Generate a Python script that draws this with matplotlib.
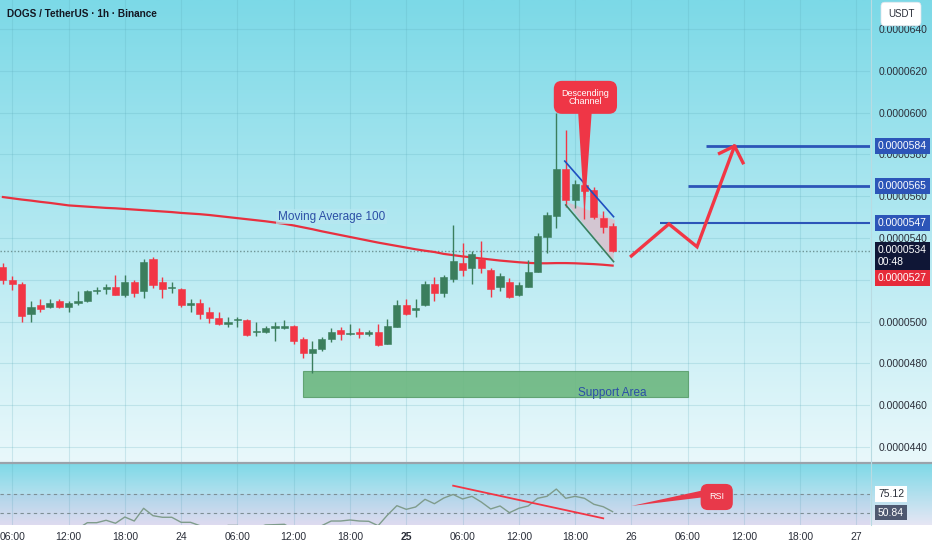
import numpy as np
import matplotlib
matplotlib.use("Agg")
import matplotlib.pyplot as plt
from matplotlib.patches import Polygon, Rectangle
import matplotlib.transforms as mtransforms

plt.rcParams['font.family'] = ['Liberation Sans', 'DejaVu Sans']

# ---------------- data (prices in units of 1e-7 USDT) ----------------
UNIT = 1e-7
hours = list(range(-1, 65))   # hours after 06:00 on day 23
opens = [526.0, 519.9, 517.9, 503.6, 507.9, 506.8, 510.0, 506.8, 508.8, 509.7,
         514.5, 515.6, 516.7, 512.7, 518.9, 514.8, 529.8, 518.9, 516.0, 515.8,
         507.9, 509.0, 504.7, 501.9, 498.9, 500.6, 500.8, 495.0, 494.9, 497.1,
         496.8, 498.0, 491.8, 484.8, 486.7, 491.7, 496.1, 493.9, 495.0, 493.9,
         495.0, 489.4, 497.6, 507.9, 505.5, 507.8, 517.8, 513.5, 520.5, 527.9,
         525.5, 529.8, 524.7, 516.7, 518.9, 512.7, 516.7, 523.9, 540.5, 550.5,
         572.9, 558.2, 565.5, 563.0, 549.6, 545.9]
highs = [527.9, 522.0, 519.0, 509.9, 510.9, 510.9, 510.9, 510.0, 514.8, 515.0,
         516.7, 518.0, 522.1, 522.1, 519.8, 529.8, 531.1, 521.2, 518.9, 516.0,
         510.9, 510.9, 507.1, 504.7, 502.1, 502.1, 501.1, 500.0, 497.9, 500.0,
         500.8, 498.4, 492.8, 490.9, 492.8, 496.8, 497.3, 498.9, 496.9, 496.0,
         498.9, 501.1, 510.5, 510.9, 510.8, 519.3, 521.2, 522.3, 546.2, 537.7,
         533.9, 538.7, 525.5, 523.1, 520.7, 518.9, 529.5, 542.3, 552.6, 599.7,
         591.7, 567.8, 566.5, 564.4, 553.1, 547.0]
lows = [518.0, 515.1, 500.0, 500.0, 504.7, 506.4, 506.4, 504.7, 507.9, 509.5,
        513.2, 513.2, 512.7, 511.9, 511.9, 511.1, 516.0, 511.1, 513.8, 507.2,
        504.7, 501.1, 499.2, 498.4, 497.3, 497.3, 493.1, 493.1, 494.4, 490.9,
        496.3, 489.1, 482.4, 475.2, 486.0, 490.1, 491.2, 493.6, 492.0, 492.9,
        488.3, 489.1, 497.3, 503.2, 502.1, 507.5, 510.0, 511.9, 519.1, 521.8,
        517.8, 523.1, 511.9, 514.8, 511.4, 512.2, 516.4, 523.6, 532.7, 544.6,
        555.0, 554.2, 549.0, 549.1, 542.2, 533.5]
closes = [519.9, 517.9, 502.7, 507.1, 505.9, 509.0, 506.8, 509.0, 510.0, 514.8,
          514.9, 516.7, 512.7, 518.9, 513.8, 528.7, 517.7, 515.6, 516.2, 507.8,
          509.0, 503.6, 501.9, 498.9, 500.0, 500.9, 493.7, 495.3, 497.0, 497.4,
          498.0, 490.9, 484.8, 486.9, 491.8, 495.2, 493.9, 494.7, 493.9, 495.0,
          488.7, 497.9, 508.1, 503.5, 506.6, 517.8, 513.5, 521.2, 528.9, 524.7,
          532.2, 525.5, 515.7, 521.8, 511.9, 517.5, 523.9, 540.9, 550.9, 572.9,
          558.2, 565.8, 562.5, 550.0, 545.3, 534.0]
ma100 = [559.6, 559.0, 558.4, 557.9, 557.3, 556.8, 556.2, 555.6, 555.3, 555.0,
         554.7, 554.4, 554.2, 553.9, 553.6, 553.3, 553.0, 552.7, 552.4, 552.0,
         551.7, 551.4, 551.0, 550.5, 550.0, 549.5, 549.0, 548.5, 548.0, 547.4,
         546.8, 546.0, 545.1, 544.2, 543.2, 542.3, 541.4, 540.5, 539.6, 538.7,
         537.8, 537.0, 536.2, 535.4, 534.6, 533.9, 533.3, 532.4, 531.8, 531.2,
         530.7, 530.2, 529.7, 529.2, 528.8, 528.4, 528.1, 527.9, 527.9, 528.0,
         528.0, 527.9, 527.7, 527.5, 527.2, 526.8]
rsi = [34.0, 32.0, 24.0, 29.0, 28.0, 31.0, 29.0, 31.0, 33.0, 39.3,
       39.3, 41.9, 38.7, 45.4, 41.1, 54.7, 46.8, 45.1, 45.1, 39.7,
       39.7, 36.1, 34.5, 32.0, 36.4, 36.4, 30.5, 33.5, 36.9, 37.2,
       37.6, 32.0, 27.5, 30.5, 36.2, 41.1, 41.1, 42.2, 41.1, 40.8,
       36.1, 47.5, 57.5, 53.6, 56.1, 64.3, 59.6, 65.7, 69.5, 64.7,
       67.5, 61.4, 54.0, 57.2, 50.0, 54.7, 57.2, 65.4, 67.5, 75.3,
       65.4, 67.5, 65.4, 59.0, 56.4, 51.1]

tick_hours = [0, 6, 12, 18, 24, 30, 36, 42, 48, 54, 60, 66, 72, 78, 84, 90]
tick_labels = ["06:00", "12:00", "18:00", "24", "06:00", "12:00", "18:00", "25",
               "06:00", "12:00", "18:00", "26", "06:00", "12:00", "18:00", "27"]
price_ticks = [440, 460, 480, 500, 520, 540, 560, 580, 600, 620, 640]
hidden_price_labels = [520]   # fully covered by the scale boxes in the original

level_prices = [584, 565, 547]
level_start = [74, 72, 69]
proj_hours = [66, 70, 73, 77]
proj_prices = [531.4, 546.7, 535.8, 584.0]
support_hours = [31, 72]
support_prices = [463.9, 476.4]
chan_upper_h = [58.9, 64.1]
chan_upper_p = [576.8, 550.2]
chan_lower_h = [59.0, 64.1]
chan_lower_p = [555.8, 528.7]
rsi_trend_h = [47.0, 63.0]
rsi_trend_v = [78.9, 44.0]
current_price = 534.0
ma_last = 526.8

# ---------------- colours ----------------
GREEN = "#3b7e5d"
RED = "#f23645"
BLUE = "#2c55b8"
TXT = "#2a2e39"

W, H = 932, 550
fig = plt.figure(figsize=(W / 100, H / 100), dpi=100)
fig.patch.set_facecolor("white")

def grad(c1, c2, n=256):
    c1 = np.array(c1) / 255.0
    c2 = np.array(c2) / 255.0
    t = np.linspace(0, 1, n)[:, None]
    g = c1 * (1 - t) + c2 * t
    return g[:, None, :]

# background of main panel (incl. price scale)
bg = fig.add_axes([0, (H - 462) / H, 1, 462 / H])
bg.imshow(grad((124, 217, 231), (233, 248, 251)), aspect="auto", extent=[0, 1, 0, 1])
bg.set_axis_off()
bg2 = fig.add_axes([0, (H - 525) / H, 1, 62 / H])
bg2.imshow(grad((124, 217, 231), (230, 230, 244)), aspect="auto", extent=[0, 1, 0, 1])
bg2.set_axis_off()

ax = fig.add_axes([0, (H - 462) / H, 870 / W, 462 / H])
ax.patch.set_alpha(0)
ax.set_xlim(-1.311, 91.44)
ax.set_ylim(432.82, 653.88)
for s in ax.spines.values():
    s.set_visible(False)

ax.yaxis.tick_right()
ax.set_yticks(price_ticks)
ax.set_yticklabels(["" if p in hidden_price_labels else f"{p * UNIT:.7f}" for p in price_ticks])
ax.tick_params(axis="y", length=0, pad=6, labelsize=7.5, labelcolor=TXT)
ax.set_xticks(tick_hours)
ax.tick_params(axis="x", length=0, labelbottom=False)
ax.grid(True, color="#5aa9b8", alpha=0.22, lw=0.8)
ax.set_axisbelow(True)

# support area
ax.add_patch(Rectangle((support_hours[0], support_prices[0]),
                       support_hours[1] - support_hours[0],
                       support_prices[1] - support_prices[0],
                       fc="#6cb77f", ec="#5a9f6c", lw=0.8, alpha=0.9, zorder=2))
ax.text(64.0, support_prices[0] + 1.9,
        "Support Area", color="#2b4fa6", fontsize=8.5, ha="center", va="center", zorder=3)

# current price dotted line
ax.axhline(current_price, color="#6f9596", lw=1.0, ls=(0, (1, 1.5)), zorder=2)

# MA 100
ax.plot(hours, ma100, color="#e8303f", lw=1.6, zorder=3)
ax.text(34.0, 550.2, "Moving Average 100", color="#2b4fa6", fontsize=8.5,
        ha="center", va="center", zorder=3,
        bbox=dict(boxstyle="square,pad=0.15", fc="#b8e8f0", ec="none", alpha=0.7))

# descending channel fill (behind candles)
ax.add_patch(Polygon([(chan_lower_h[0], chan_lower_p[0] + 1.6),
                      (chan_upper_h[1] + 0.15, chan_upper_p[1] - 1.6),
                      (chan_lower_h[1], chan_lower_p[1])],
                     closed=True, fc="#d6c5d1", ec="none", alpha=0.95, zorder=3.5))

# candles
o = np.array(opens); c = np.array(closes)
hi = np.array(highs); lo = np.array(lows)
up = c >= o
cols = np.where(up, GREEN, RED)
ax.vlines(hours, lo, hi, colors=cols, lw=1.0, zorder=4)
bottom = np.minimum(o, c)
height = np.maximum(np.abs(c - o), 0.7)
ax.bar(hours, height, bottom=bottom, width=0.76, color=cols, edgecolor=cols,
       lw=0.4, zorder=5)

ax.plot(chan_upper_h, chan_upper_p, color="#1f4fc0", lw=1.2, zorder=7)
ax.plot(chan_lower_h, chan_lower_p, color="#3b7e5d", lw=1.2, zorder=7)

# callout "Descending Channel"
ax.add_patch(Polygon([(60.3, 602.0), (61.8, 602.0), (61.0, 551.5)], closed=True,
                     fc="#ef3646", ec="none", zorder=8))
ax.text(61.1, 607.3, "Descending\nChannel", color="white", fontsize=6.5,
        ha="center", va="center", linespacing=0.95, zorder=9,
        bbox=dict(boxstyle="round,pad=0.85,rounding_size=0.9", fc="#ef3646", ec="none"))

# target levels
for p, s in zip(level_prices, level_start):
    ax.hlines(p, s, ax.get_xlim()[1], color=BLUE, lw=2.0 if p != 547 else 1.5, zorder=6)

# projection path with arrow head
ax.plot(proj_hours, proj_prices, color=RED, lw=2.4, zorder=7, solid_joinstyle="miter")
tip_h, tip_p = proj_hours[-1], proj_prices[-1]
ax.plot([tip_h - 1.6, tip_h, tip_h + 0.9], [tip_p - 3.5, tip_p, tip_p - 8.0],
        color=RED, lw=2.4, zorder=7)

# right-scale boxes
blend = mtransforms.blended_transform_factory(ax.transAxes, ax.transData)
def scale_box(yv, txt, fc, tc="white"):
    ax.text(878 / 870, yv, txt, transform=blend, ha="left", va="center",
            fontsize=7.5, color=tc, clip_on=False, zorder=20, linespacing=1.25,
            bbox=dict(boxstyle="square,pad=0.3", fc=fc, ec="none"))
for p in level_prices:
    scale_box(p, f"{p * UNIT:.7f}", BLUE)
scale_box(531.2, f"{current_price * UNIT:.7f}\n00:48", "#0f1636")
scale_box(521.0, f"{ma_last * UNIT:.7f}", "#e62b3a")

# ---------------- RSI panel ----------------
rx = fig.add_axes([0, (H - 525) / H, 870 / W, 62 / H])
rx.patch.set_alpha(0)
rx.set_xlim(ax.get_xlim())
rx.set_ylim(36.84, 103.16)
for s in rx.spines.values():
    s.set_visible(False)
rx.set_yticks([])
rx.set_xticks(tick_hours)
rx.set_xticklabels(tick_labels)
rx.tick_params(axis="x", length=0, pad=5, labelsize=7.5, labelcolor=TXT)
for lab in rx.get_xticklabels():
    if lab.get_text() == "25":
        lab.set_fontweight("bold")
rx.grid(True, axis="x", color="#5aa9b8", alpha=0.22, lw=0.8)
rx.set_axisbelow(True)
rx.axhspan(30, 70, color="#7e57c2", alpha=0.07, lw=0)
rx.axhline(70, color="#7d8f95", lw=0.8, ls=(0, (3, 3)))
rx.axhline(50, color="#7d8f95", lw=0.8, ls=(0, (3, 3)))
rx.plot(hours, rsi, color="#7f9c8c", lw=1.0, zorder=3)
rx.plot(rsi_trend_h, rsi_trend_v, color=RED, lw=1.3, zorder=4)
rx.add_patch(Polygon([(66.0, 57.2), (73.9, 74.5), (73.9, 66.8)], closed=True,
                     fc="#e8394a", ec="none", zorder=5))
rx.text(75.1, 66.8, "RSI", color="white", fontsize=6.5, ha="center", va="center",
        zorder=6, bbox=dict(boxstyle="round,pad=0.95,rounding_size=0.8", fc="#e8394a", ec="none"))
rblend = mtransforms.blended_transform_factory(rx.transAxes, rx.transData)
rx.text(878 / 870, 70, "75.12", transform=rblend, ha="left", va="center", fontsize=7.5,
        color=TXT, clip_on=False, bbox=dict(boxstyle="square,pad=0.25", fc="white", ec="none"))
rx.text(878 / 870, 50, "50.84", transform=rblend, ha="left", va="center", fontsize=7.5,
        color="white", clip_on=False, bbox=dict(boxstyle="square,pad=0.25", fc="#4e5870", ec="none"))

# separators
fig.add_artist(plt.Line2D([0, 1], [(H - 462.5) / H] * 2, color="#9aa3ab", lw=1.6))
fig.add_artist(plt.Line2D([870.5 / W] * 2, [(H - 525) / H, 1], color="#b9dbe2", lw=0.8))

# title and currency box
fig.text(7 / W, 1 - 14 / H, "DOGS / TetherUS · 1h · Binance", fontsize=7.2,
         fontweight="bold", color="#131722", ha="left", va="center")
fig.text(901 / W, 1 - 14 / H, "USDT", fontsize=7, color=TXT, ha="center", va="center",
         bbox=dict(boxstyle="round,pad=0.7,rounding_size=0.4", fc="white", ec="#e0e3eb", lw=0.5))

fig.savefig("out.png", dpi=100)
